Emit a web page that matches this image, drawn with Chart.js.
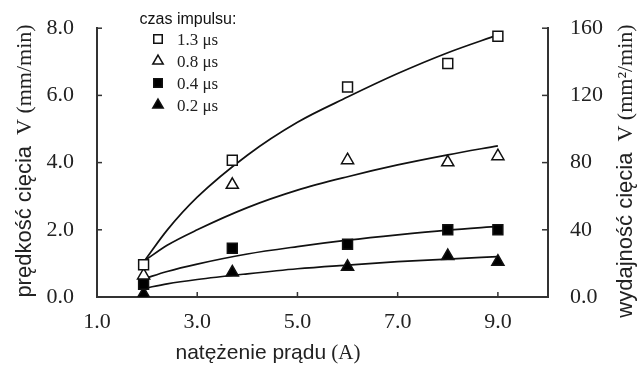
<!DOCTYPE html>
<html lang="pl">
<head>
    <meta charset="UTF-8">
    <title>prędkość cięcia</title>
    <style>
        body { margin: 0; padding: 0; background: #fff; }
        .chart-box { width: 644px; height: 369px; }
    </style>
</head>
<body>
    <div class="chart-box"><canvas id="chart" width="644" height="369"></canvas></div>

    <script src="https://cdn.jsdelivr.net/npm/chart.js"></script>
    <script>
        // measured points (x = natężenie prądu, A)
        const pointX = [1.93, 3.7, 6.0, 8.0, 9.0];
        const pts13 = [0.96, 4.07, 6.25, 6.95, 7.76];
        const pts08 = [0.64, 3.34, 4.07, 4.01, 4.19];
        const pts04 = [0.38, 1.45, 1.57, 2.0, 2.0];
        const pts02 = [0.09, 0.73, 0.90, 1.22, 1.05];

        // fitted curves
        const fitX = [1.95, 2.4, 3.0, 4.0, 5.0, 6.0, 7.0, 8.0, 9.0];
        const fit13 = [1.08, 1.99, 2.97, 4.22, 5.2, 5.95, 6.65, 7.27, 7.8];
        const fit08 = [1.08, 1.54, 2.0, 2.66, 3.18, 3.58, 3.93, 4.23, 4.5];
        const fit04 = [0.55, 0.76, 0.98, 1.28, 1.5, 1.69, 1.85, 1.99, 2.1];
        const fit02 = [0.26, 0.39, 0.52, 0.69, 0.84, 0.95, 1.05, 1.13, 1.2];

        const legendTitle = 'czas impulsu:';
        const seriesLabels = ['1.3 μs', '0.8 μs', '0.4 μs', '0.2 μs'];

        const xTicks = [1, 3, 5, 7, 9];
        const yTicks = [0, 2, 4, 6, 8];
        const y2Ticks = [0, 40, 80, 120, 160];
        const y2Labels = ['0.0', '40', '80', '120', '160'];

        const SANS = '"Liberation Sans", Arial, sans-serif';
        const SERIF = '"Liberation Serif", "Times New Roman", serif';

        const xTitle = [['natężenie prądu', SANS], [' (A)', SERIF]];
        const yTitle = [['prędkość cięcia', SANS], ['  V (mm/min)', SERIF]];
        const y2Title = [['wydajność cięcia', SANS], ['  V (mm²/min)', SERIF]];

        const toXY = (xs, ys) => xs.map((x, i) => ({ x: x, y: ys[i] }));

        const markerStyles = [
            { pointStyle: 'rect', fill: '#fff' },
            { pointStyle: 'triangle', fill: '#fff' },
            { pointStyle: 'rect', fill: '#000' },
            { pointStyle: 'triangle', fill: '#000' }
        ];
        const pointSets = [pts13, pts08, pts04, pts02];
        const fitSets = [fit13, fit08, fit04, fit02];

        const datasets = [];
        fitSets.forEach(f => {
            datasets.push({
                type: 'line',
                data: toXY(fitX, f),
                borderColor: '#111',
                borderWidth: 1.7,
                pointRadius: 0,
                fill: false,
                cubicInterpolationMode: 'monotone',
                order: 2
            });
        });
        pointSets.forEach((p, i) => {
            datasets.push({
                type: 'scatter',
                label: seriesLabels[i],
                data: toXY(pointX, p),
                pointStyle: markerStyles[i].pointStyle,
                backgroundColor: markerStyles[i].fill,
                borderColor: '#111',
                borderWidth: 1.5,
                pointRadius: 7,
                showLine: false,
                order: 1
            });
        });

        // tick marks pointing into the plot
        const inwardTicks = {
            id: 'inwardTicks',
            afterDraw(chart) {
                const { ctx, chartArea: a } = chart;
                ctx.save();
                ctx.strokeStyle = '#333';
                ctx.lineWidth = 1.5;
                ['x', 'y', 'y1'].forEach(id => {
                    const s = chart.scales[id];
                    s.ticks.forEach(t => {
                        const p = s.getPixelForValue(t.value);
                        ctx.beginPath();
                        if (id === 'x') { ctx.moveTo(p, a.bottom); ctx.lineTo(p, a.bottom - 5); }
                        else if (id === 'y') { ctx.moveTo(a.left, p); ctx.lineTo(a.left + 5, p); }
                        else { ctx.moveTo(a.right, p); ctx.lineTo(a.right - 6, p); }
                        ctx.stroke();
                    });
                });
                ctx.restore();
            }
        };

        // axis titles mix a sans and a serif part
        function runsWidth(ctx, runs, size) {
            let w = 0;
            runs.forEach(r => { ctx.font = size + 'px ' + r[1]; w += ctx.measureText(r[0]).width; });
            return w;
        }
        function drawRuns(ctx, runs, size, x, y) {
            runs.forEach(r => {
                ctx.font = size + 'px ' + r[1];
                ctx.fillText(r[0], x, y);
                x += ctx.measureText(r[0]).width;
            });
        }
        const axisTitles = {
            id: 'axisTitles',
            afterDraw(chart) {
                const ctx = chart.ctx;
                const size = 22;
                ctx.save();
                ctx.fillStyle = '#222';
                ctx.textAlign = 'left';
                ctx.textBaseline = 'alphabetic';

                let w = runsWidth(ctx, xTitle, size - 1);
                drawRuns(ctx, xTitle, size - 1, 268 - w / 2, 359);

                [[yTitle, 31, 161], [y2Title, 632, 171]].forEach(([runs, bx, cy]) => {
                    const tw = runsWidth(ctx, runs, size);
                    ctx.save();
                    ctx.translate(bx, cy);
                    ctx.rotate(-Math.PI / 2);
                    drawRuns(ctx, runs, size, -tw / 2, 0);
                    ctx.restore();
                });
                ctx.restore();
            }
        };

        // legend placed inside the plot, top left
        const boxLegend = {
            id: 'boxLegend',
            afterDraw(chart) {
                const ctx = chart.ctx;
                ctx.save();
                ctx.fillStyle = '#111';
                ctx.font = '16px ' + SANS;
                ctx.textAlign = 'center';
                ctx.textBaseline = 'alphabetic';
                ctx.fillText(legendTitle, 188, 24);

                const rowY = [39, 61, 83, 105];
                seriesLabels.forEach((lab, i) => {
                    ctx.fillStyle = markerStyles[i].fill;
                    ctx.strokeStyle = '#111';
                    ctx.lineWidth = 1.5;
                    Chart.helpers.drawPoint(ctx, {
                        pointStyle: markerStyles[i].pointStyle,
                        radius: 6,
                        borderWidth: 1.5,
                        rotation: 0
                    }, 158, rowY[i]);
                    ctx.fillStyle = '#222';
                    ctx.font = '17px ' + SERIF;
                    ctx.textAlign = 'left';
                    ctx.textBaseline = 'middle';
                    ctx.fillText(lab, 177, rowY[i] + 2);
                });
                ctx.restore();
            }
        };

        const tickFont = { family: SERIF, size: 22 };

        new Chart(document.getElementById('chart').getContext('2d'), {
            data: { datasets: datasets },
            options: {
                responsive: false,
                animation: false,
                layout: { padding: { top: 22 } },
                plugins: {
                    legend: { display: false },
                    tooltip: { enabled: false }
                },
                scales: {
                    x: {
                        type: 'linear',
                        position: 'bottom',
                        min: 1,
                        max: 10,
                        afterBuildTicks: s => { s.ticks = xTicks.map(v => ({ value: v })); },
                        afterFit: s => { s.height = 72; },
                        grid: { display: false },
                        border: { color: '#333', width: 2 },
                        ticks: {
                            font: tickFont,
                            color: '#222',
                            padding: 4,
                            maxRotation: 0,
                            callback: v => v.toFixed(1)
                        }
                    },
                    y: {
                        type: 'linear',
                        position: 'left',
                        min: 0,
                        max: 8,
                        afterBuildTicks: s => { s.ticks = yTicks.map(v => ({ value: v })); },
                        afterFit: s => { s.width = 97; },
                        grid: { display: false },
                        border: { color: '#333', width: 2 },
                        ticks: {
                            font: tickFont,
                            color: '#222',
                            padding: 15,
                            callback: v => v.toFixed(1)
                        }
                    },
                    y1: {
                        type: 'linear',
                        position: 'right',
                        min: 0,
                        max: 160,
                        afterBuildTicks: s => { s.ticks = y2Ticks.map(v => ({ value: v })); },
                        afterFit: s => { s.width = 96; },
                        grid: { display: false },
                        border: { color: '#333', width: 2 },
                        ticks: {
                            font: tickFont,
                            color: '#222',
                            padding: 14,
                            callback: v => y2Labels[y2Ticks.indexOf(v)]
                        }
                    }
                }
            },
            plugins: [inwardTicks, axisTitles, boxLegend]
        });
    </script>
</body>
</html>
